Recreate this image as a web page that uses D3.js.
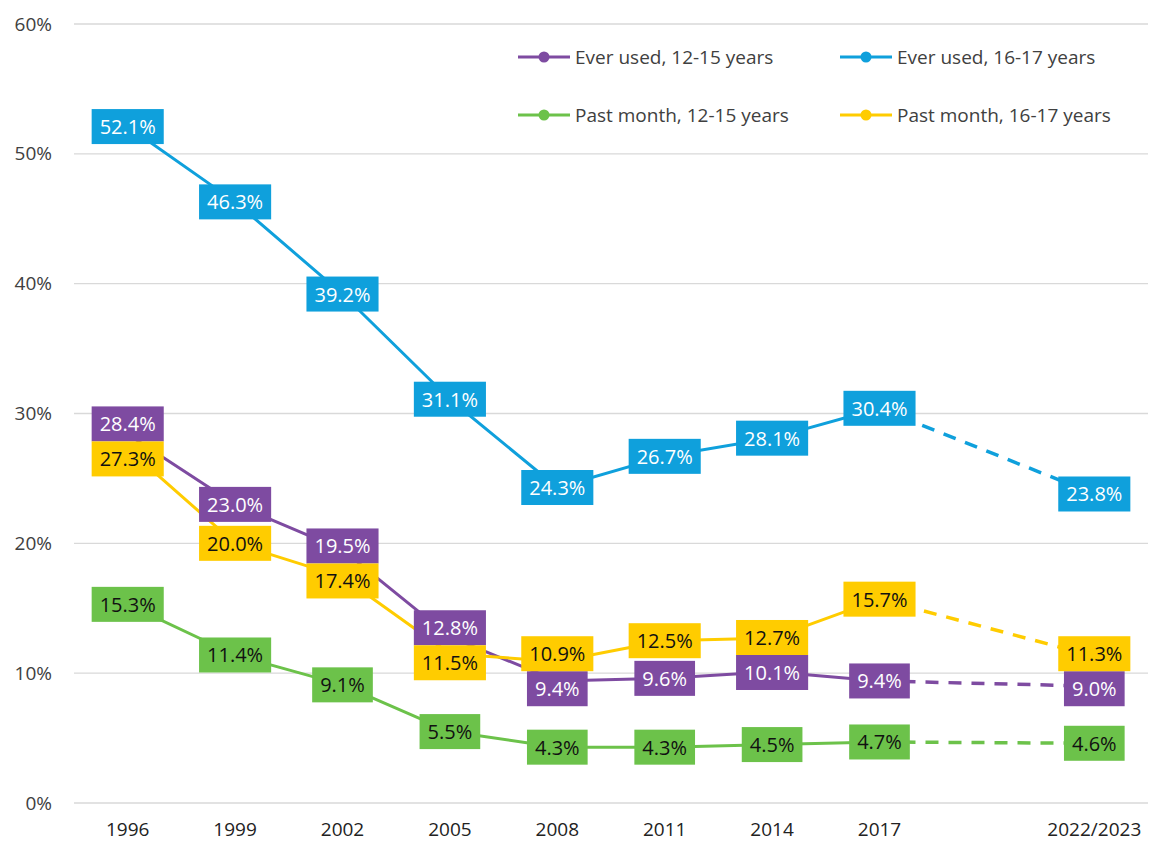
<!DOCTYPE html>
<html>
<head>
<meta charset="utf-8">
<script src="https://cdn.jsdelivr.net/npm/d3@7/dist/d3.min.js"></script>
<style>
  html, body { margin: 0; padding: 0; background: #fff; }
  svg { display: block; font-family: "Open Sans", "Noto Sans", sans-serif; }
</style>
</head>
<body>
<svg id="chart" width="1150" height="841"></svg>
<script>
// ---- data ----
const years = ["1996", "1999", "2002", "2005", "2008", "2011", "2014", "2017", "2022/2023"];
const slots = ["1996", "1999", "2002", "2005", "2008", "2011", "2014", "2017", "", "2022/2023"];
const yTicks = [0, 10, 20, 30, 40, 50, 60];

const seriesNames = ["Ever used, 12-15 years", "Ever used, 16-17 years", "Past month, 12-15 years", "Past month, 16-17 years"];
const everUsed1215 = [28.4, 23.0, 19.5, 12.8, 9.4, 9.6, 10.1, 9.4, 9.0];
const everUsed1617 = [52.1, 46.3, 39.2, 31.1, 24.3, 26.7, 28.1, 30.4, 23.8];
const pastMonth1215 = [15.3, 11.4, 9.1, 5.5, 4.3, 4.3, 4.5, 4.7, 4.6];
const pastMonth1617 = [27.3, 20.0, 17.4, 11.5, 10.9, 12.5, 12.7, 15.7, 11.3];

const colors = ["#7e4ba1", "#0fa0dc", "#6cc24a", "#ffcc00"];
const labelText = ["#ffffff", "#ffffff", "#111111", "#111111"];

const series = [everUsed1215, everUsed1617, pastMonth1215, pastMonth1617].map((vals, i) => ({
  name: seriesNames[i], color: colors[i], textColor: labelText[i],
  points: vals.map((v, j) => ({ year: years[j], value: v, idx: i }))
}));

// ---- layout ----
const svg = d3.select("#chart");
const margin = { left: 74, right: 2, top: 24, bottom: 38 };
const W = 1150, H = 841;
const x = d3.scaleBand().domain(slots).range([margin.left, W - margin.right]).paddingInner(0).paddingOuter(0);
const y = d3.scaleLinear().domain([0, 60]).range([H - margin.bottom, margin.top]);
const cx = d => x(d) + x.bandwidth() / 2;

// gridlines
svg.append("g").selectAll("line").data(yTicks).join("line")
  .attr("x1", margin.left).attr("x2", W - margin.right)
  .attr("y1", d => y(d)).attr("y2", d => y(d))
  .attr("stroke", "#d9d9d9").attr("stroke-width", 1.3);

// y axis labels
const yAxis = d3.axisLeft(y).tickValues(yTicks).tickFormat(d => d + "%").tickSize(0).tickPadding(22);
const gy = svg.append("g").attr("transform", `translate(${margin.left},0)`).call(yAxis);
gy.select(".domain").remove();
gy.selectAll("text").attr("font-size", 19).attr("fill", "#404040").attr("font-family", "Open Sans, sans-serif");

// x axis labels
const xAxis = d3.axisBottom(x).tickValues(years).tickSize(0).tickPadding(20);
const gx = svg.append("g").attr("transform", `translate(0,${y(0)})`).call(xAxis);
gx.select(".domain").remove();
gx.selectAll("text").attr("font-size", 19).attr("fill", "#222").attr("font-family", "Open Sans, sans-serif");

// lines: solid up to 2017, dashed from 2017 to 2022/2023
const line = d3.line().x(d => cx(d.year)).y(d => y(d.value));
series.forEach(s => {
  const solid = s.points.slice(0, 8);
  const dashed = s.points.slice(7);
  svg.append("path").datum(solid).attr("d", line)
    .attr("fill", "none").attr("stroke", s.color).attr("stroke-width", 3).attr("stroke-linejoin", "round");
  svg.append("path").datum(dashed).attr("d", line)
    .attr("fill", "none").attr("stroke", s.color).attr("stroke-width", 3.5).attr("stroke-dasharray", "13,10");
});

// labels with simple vertical collision avoidance per year
const boxH = 35, padX = 8, fontSize = 20;
const labels = [];
series.forEach(s => s.points.forEach(p => labels.push({ ...p, color: s.color, textColor: s.textColor, cy: y(p.value) })));
years.forEach(yr => {
  const group = labels.filter(l => l.year === yr).sort((a, b) => a.cy - b.cy);
  for (let iter = 0; iter < 20; iter++) {
    let moved = false;
    for (let k = 0; k < group.length - 1; k++) {
      const a = group[k], b = group[k + 1];
      const overlap = boxH - (b.cy - a.cy);
      if (overlap > 0.01) { a.cy -= overlap / 2; b.cy += overlap / 2; moved = true; }
    }
    if (!moved) break;
  }
});

const lg = svg.append("g");
labels.forEach(l => {
  const g = lg.append("g");
  const t = g.append("text")
    .attr("x", cx(l.year)).attr("y", l.cy)
    .attr("text-anchor", "middle").attr("dominant-baseline", "central")
    .attr("font-size", fontSize).attr("fill", l.textColor)
    .text(l.value.toFixed(1) + "%");
  const w = t.node().getComputedTextLength() + padX * 2;
  g.insert("rect", "text")
    .attr("x", cx(l.year) - w / 2).attr("y", l.cy - boxH / 2)
    .attr("width", w).attr("height", boxH)
    .attr("fill", l.color);
});

// legend
const legendPos = [[518, 57], [840, 57], [518, 115], [840, 115]];
series.forEach((s, i) => {
  const [lx, ly] = legendPos[i];
  const g = svg.append("g").attr("transform", `translate(${lx},${ly})`);
  g.append("line").attr("x1", 0).attr("x2", 52).attr("y1", 0).attr("y2", 0)
    .attr("stroke", s.color).attr("stroke-width", 3);
  g.append("circle").attr("cx", 26).attr("cy", 0).attr("r", 5.5).attr("fill", s.color);
  g.append("text").attr("x", 57).attr("y", 0).attr("dominant-baseline", "central")
    .attr("font-size", 19).attr("fill", "#404040").text(s.name);
});
</script>
</body>
</html>
